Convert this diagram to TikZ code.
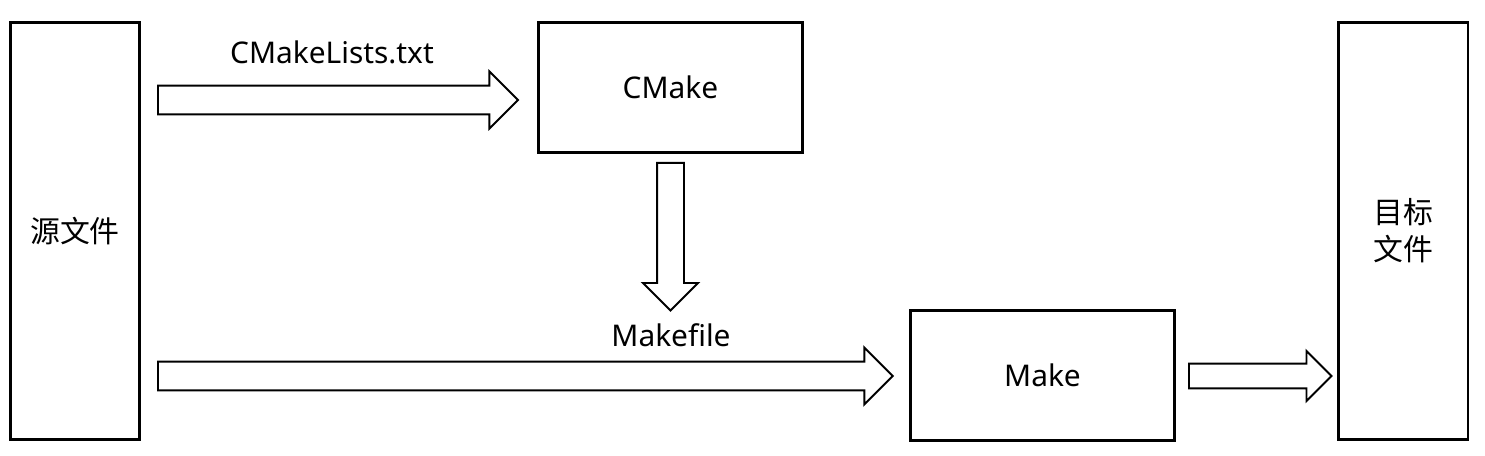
\documentclass[tikz,border=0pt]{standalone}
\usepackage{fontspec}
\setmainfont{Noto Sans}
\newfontfamily\cjk{Noto Sans CJK SC}
\usepackage{tikz}
\usetikzlibrary{shapes.arrows}

\begin{document}
\begin{tikzpicture}[
			x=0.02cm, y=-0.02cm,
			every node/.style={font=\fontsize{17}{21}\selectfont},
			box/.style={
				rectangle, draw, line width=1.7pt,
				align=center, inner sep=0pt
			},
			tallbox/.style={box, minimum width=2.6cm, minimum height=8.36cm},
			widebox/.style={box, minimum width=5.3cm, minimum height=2.6cm},
			fatarrow/.style={
				single arrow, draw, line width=1.1pt, anchor=tail,
				inner sep=0pt, text height=0.54cm, text depth=0pt,
				single arrow head extend=0.28cm, single arrow tip angle=90
			}
			]
			\useasboundingbox (0,0) rectangle (1485,456);
			
			\node[tallbox] (src) at (75,231) {\cjk 源文件};
			\node[widebox] (cmake) at (670.5,87.5) {CMake};
			\node[widebox] (make) at (1042.5,375.5) {Make};
			\node[tallbox] (dst) at (1403,231) {\cjk 目标\\\cjk 文件};
			
			\node[fatarrow, minimum height=7.2cm] (a1) at (157,100) {};
			\node[fatarrow, minimum height=2.95cm, rotate=-90, text height=0.5cm] (a2) at (670.5,162) {};
			\node[fatarrow, minimum height=14.7cm] (a3) at (157,376) {};
			\node[fatarrow, minimum height=2.85cm, text height=0.46cm, single arrow head extend=0.25cm] (a4) at (1188,376) {};
			
			\node (lists) at (332,52) {CMakeLists.txt};
			\node (mkfile) at (671,335) {Makefile};
			
		\end{tikzpicture}
\end{document}
